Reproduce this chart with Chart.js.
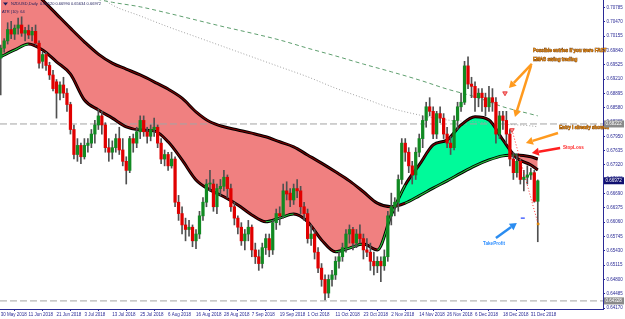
<!DOCTYPE html>
<html>
<head>
<meta charset="utf-8">
<script src="https://cdn.jsdelivr.net/npm/chart.js@4.4.1/dist/chart.umd.min.js"></script>
<style>
  html, body { margin: 0; padding: 0; background: #fff; }
  #wrap { width: 625px; height: 319px; }
</style>
</head>
<body>
<div id="wrap"><canvas id="chart" width="625" height="319"></canvas></div>
<script>
// NZDUSD daily, 30 May 2018 -> 3 Jan 2019 (one entry per bar)
const DATE_LABELS = ['30 May 2018', '11 Jun 2018', '21 Jun 2018', '3 Jul 2018', '13 Jul 2018', '25 Jul 2018',
  '6 Aug 2018', '16 Aug 2018', '28 Aug 2018', '7 Sep 2018', '19 Sep 2018', '1 Oct 2018', '11 Oct 2018',
  '23 Oct 2018', '2 Nov 2018', '14 Nov 2018', '26 Nov 2018', '6 Dec 2018', '18 Dec 2018', '31 Dec 2018'];

const OPEN = [0.6967,0.6989,0.7005,0.7030,0.7020,0.7033,0.7040,0.7022,0.7028,0.7018,0.7026,0.7000,0.6960,0.6975,0.6951,0.6930,
  0.6915,0.6890,0.6908,0.6890,0.6865,0.6810,0.6755,0.6775,0.6750,0.6775,0.6780,0.6800,0.6820,0.6840,0.6820,0.6770,
  0.6760,0.6770,0.6790,0.6765,0.6740,0.6720,0.6790,0.6780,0.6805,0.6830,0.6805,0.6795,0.6810,0.6815,0.6780,0.6745,
  0.6755,0.6730,0.6745,0.6650,0.6625,0.6600,0.6590,0.6595,0.6565,0.6580,0.6620,0.6650,0.6690,0.6690,0.6640,0.6680,
  0.6685,0.6705,0.6680,0.6640,0.6615,0.6595,0.6565,0.6580,0.6595,0.6545,0.6530,0.6515,0.6550,0.6570,0.6545,0.6605,
  0.6625,0.6620,0.6675,0.6670,0.6655,0.6680,0.6675,0.6640,0.6625,0.6570,0.6580,0.6540,0.6505,0.6480,0.6450,0.6480,
  0.6490,0.6520,0.6530,0.6550,0.6580,0.6590,0.6560,0.6580,0.6570,0.6545,0.6540,0.6520,0.6510,0.6520,0.6510,0.6530,
  0.6620,0.6640,0.6650,0.6700,0.6780,0.6760,0.6730,0.6710,0.6760,0.6790,0.6830,0.6860,0.6850,0.6800,0.6845,0.6835,
  0.6800,0.6780,0.6770,0.6830,0.6860,0.6870,0.6950,0.6910,0.6905,0.6880,0.6890,0.6880,0.6860,0.6880,0.6870,0.6800,
  0.6840,0.6830,0.6800,0.6745,0.6715,0.6740,0.6700,0.6705,0.6710,0.6715,0.6652];
const HIGH = [0.6996,0.7010,0.7045,0.7048,0.7040,0.7055,0.7058,0.7035,0.7040,0.7035,0.7040,0.7005,0.6980,0.6980,0.6958,0.6940,
  0.6920,0.6915,0.6925,0.6900,0.6870,0.6820,0.6790,0.6780,0.6790,0.6790,0.6810,0.6830,0.6855,0.6850,0.6825,0.6790,
  0.6785,0.6800,0.6815,0.6790,0.6750,0.6795,0.6800,0.6815,0.6840,0.6840,0.6815,0.6820,0.6835,0.6820,0.6790,0.6765,
  0.6760,0.6760,0.6750,0.6665,0.6640,0.6615,0.6610,0.6600,0.6590,0.6630,0.6660,0.6700,0.6720,0.6700,0.6690,0.6700,
  0.6720,0.6710,0.6690,0.6650,0.6620,0.6605,0.6590,0.6610,0.6600,0.6560,0.6545,0.6560,0.6580,0.6580,0.6610,0.6635,
  0.6640,0.6690,0.6695,0.6680,0.6690,0.6700,0.6685,0.6650,0.6635,0.6600,0.6590,0.6550,0.6515,0.6490,0.6490,0.6500,
  0.6530,0.6540,0.6560,0.6590,0.6600,0.6595,0.6590,0.6600,0.6580,0.6570,0.6560,0.6540,0.6530,0.6530,0.6545,0.6630,
  0.6670,0.6660,0.6710,0.6790,0.6790,0.6770,0.6740,0.6770,0.6800,0.6840,0.6870,0.6880,0.6860,0.6850,0.6860,0.6845,
  0.6815,0.6795,0.6840,0.6870,0.6890,0.6960,0.6970,0.6925,0.6915,0.6900,0.6900,0.6890,0.6905,0.6900,0.6880,0.6850,
  0.6850,0.6850,0.6810,0.6760,0.6755,0.6745,0.6720,0.6730,0.6725,0.6720,0.6699];
const LOW = [0.6886,0.6980,0.6998,0.7010,0.7008,0.7020,0.7015,0.7005,0.7010,0.7005,0.6995,0.6945,0.6945,0.6940,0.6920,0.6895,
  0.6835,0.6875,0.6880,0.6850,0.6800,0.6745,0.6740,0.6735,0.6745,0.6760,0.6770,0.6780,0.6810,0.6800,0.6760,0.6740,
  0.6745,0.6760,0.6755,0.6730,0.6690,0.6715,0.6760,0.6770,0.6790,0.6795,0.6780,0.6785,0.6795,0.6770,0.6735,0.6730,
  0.6720,0.6725,0.6640,0.6610,0.6580,0.6565,0.6575,0.6552,0.6548,0.6570,0.6610,0.6640,0.6675,0.6630,0.6625,0.6665,
  0.6675,0.6660,0.6630,0.6600,0.6580,0.6555,0.6545,0.6565,0.6530,0.6515,0.6500,0.6505,0.6535,0.6530,0.6535,0.6590,
  0.6600,0.6615,0.6655,0.6640,0.6645,0.6660,0.6625,0.6610,0.6560,0.6555,0.6525,0.6495,0.6465,0.6435,0.6440,0.6465,
  0.6480,0.6505,0.6520,0.6540,0.6560,0.6545,0.6550,0.6560,0.6525,0.6530,0.6500,0.6490,0.6495,0.6475,0.6500,0.6520,
  0.6600,0.6620,0.6630,0.6690,0.6740,0.6715,0.6690,0.6700,0.6750,0.6770,0.6815,0.6840,0.6790,0.6790,0.6825,0.6790,
  0.6770,0.6755,0.6765,0.6810,0.6850,0.6865,0.6900,0.6880,0.6850,0.6860,0.6850,0.6840,0.6850,0.6850,0.6780,0.6790,
  0.6810,0.6780,0.6730,0.6700,0.6705,0.6690,0.6675,0.6690,0.6700,0.6650,0.6563];
const CLOSE = [0.6989,0.7005,0.7030,0.7020,0.7033,0.7040,0.7022,0.7028,0.7018,0.7026,0.7000,0.6956,0.6975,0.6951,0.6930,0.6900,
  0.6890,0.6908,0.6890,0.6865,0.6810,0.6755,0.6775,0.6750,0.6775,0.6780,0.6800,0.6820,0.6840,0.6820,0.6770,0.6760,
  0.6770,0.6790,0.6765,0.6740,0.6720,0.6790,0.6780,0.6805,0.6830,0.6805,0.6795,0.6810,0.6815,0.6780,0.6745,0.6755,
  0.6730,0.6745,0.6650,0.6625,0.6600,0.6590,0.6595,0.6565,0.6580,0.6620,0.6650,0.6690,0.6690,0.6640,0.6680,0.6685,
  0.6705,0.6680,0.6640,0.6615,0.6595,0.6565,0.6580,0.6595,0.6545,0.6530,0.6515,0.6550,0.6570,0.6545,0.6605,0.6625,
  0.6620,0.6675,0.6668,0.6655,0.6680,0.6675,0.6640,0.6625,0.6570,0.6580,0.6540,0.6505,0.6480,0.6450,0.6480,0.6490,
  0.6520,0.6530,0.6550,0.6580,0.6590,0.6560,0.6580,0.6570,0.6545,0.6540,0.6520,0.6510,0.6520,0.6510,0.6530,0.6620,
  0.6640,0.6650,0.6700,0.6780,0.6760,0.6730,0.6710,0.6760,0.6790,0.6830,0.6860,0.6850,0.6800,0.6845,0.6835,0.6800,
  0.6780,0.6770,0.6830,0.6860,0.6870,0.6950,0.6910,0.6905,0.6880,0.6890,0.6880,0.6860,0.6880,0.6870,0.6800,0.6840,
  0.6830,0.6800,0.6745,0.6715,0.6740,0.6700,0.6705,0.6710,0.6715,0.6652,0.6697];

// moving averages, read every 4 bars
const MA_BARS = [0,4,8,12,16,20,24,28,32,36,40,44,48,52,56,60,64,68,72,76,80,84,88,92,96,100,104,108,112,116,120,124,128,132,136,140,144,148,152,154];
const FAST_MA = [0.6970,0.6985,0.6998,0.6985,0.6959,0.6932,0.6875,0.6853,0.6835,0.6816,0.6809,0.6807,0.6783,0.6743,0.6699,0.6677,
  0.6662,0.6644,0.6622,0.6607,0.6615,0.6624,0.6607,0.6567,0.6541,0.6549,0.6558,0.6545,0.6622,0.6688,0.6732,0.6776,0.6787,0.6820,
  0.6838,0.6831,0.6787,0.6747,0.6732,0.6721];
const SLOW_MA = [0.7190,0.7161,0.7128,0.7095,0.7064,0.7033,0.7003,0.6976,0.6956,0.6943,0.6930,0.6915,0.6899,0.6879,0.6849,0.6827,
  0.6816,0.6809,0.6802,0.6794,0.6783,0.6772,0.6754,0.6736,0.6717,0.6697,0.6673,0.6648,0.6640,0.6648,0.6664,0.6681,0.6697,0.6714,
  0.6730,0.6743,0.6752,0.6754,0.6750,0.6745];

// long averages, read every 8 bars
const LONG_BARS = [16,24,32,40,48,56,64,72,80,88,96,104,112,120,128,136,144,152,154];
const MA_GREEN = [0.7120,0.7103,0.7090,0.7080,0.7066,0.7051,0.7036,0.7022,0.7007,0.6989,0.6972,0.6954,0.6937,0.6919,0.6899,0.6882,0.6860,0.6844,0.6840];
const MA_GREY = [0.7150,0.7128,0.7084,0.7060,0.7036,0.7014,0.6992,0.6970,0.6948,0.6926,0.6901,0.6879,0.6857,0.6842,0.6831,0.6827,0.6822,0.6818,0.6816];

const Y_TICKS = [0.70785,0.70470,0.70155,0.69840,0.69525,0.69210,0.68895,0.68580,0.68265,0.67950,0.67635,
  0.67320,0.67005,0.66690,0.66375,0.66060,0.65745,0.65430,0.65115,0.64800,0.64485,0.64170];
const LEVELS = [0.68222, 0.64328];
const LAST_PRICE = 0.66972;

// trade marks (bar, price)
const TRADE_LINE = [[146.6, 0.6809], [154.1, 0.6602]];
const SELL_MARKS = [[144.6, 0.6890], [146.6, 0.6809]];
const TP_MARK = [[149.7, 0.6615]];
const CLOSE_MARK = [[154.1, 0.6602]];

const BLUE = '#2a2a96';
const GREEN_FILL = '#00fa9a';
const RED_FILL = '#f08080';

function lowerRising(a, b, k) {
  return a[k] < b[k] && a[k + 1] > a[k];
}

function pts(xs, ys) {
  return xs.map((x, k) => ({ x: x, y: ys[k] }));
}

const notes = [
  { text: 'Possible entries if you were FAST', x: 152.6, y: 0.69828, color: '#f59a20', outline: true },
  { text: 'EMAS swing trading', x: 152.6, y: 0.69630, color: '#f59a20', outline: true },
  { text: 'Entry I already showed', x: 160.1, y: 0.68133, color: '#f59a20', outline: true },
  { text: 'StopLoss', x: 161.2, y: 0.67693, color: '#ff2a2a' },
  { text: 'TakeProfit', x: 138.3, y: 0.65581, color: '#2f8fff' }
];
const arrows = [
  { from: [152.3, 0.69542], to: [145.74, 0.69013], color: '#ff9a1e' },
  { from: [152.05, 0.69498], to: [147.46, 0.68375], color: '#ff9a1e' },
  { from: [159.8, 0.68023], to: [150.6, 0.67803], color: '#ff9a1e' },
  { from: [160.4, 0.67693], to: [152.3, 0.67583], color: '#ff2020' },
  { from: [142.0, 0.65713], to: [148.0, 0.66043], color: '#2a8cf0' }
];

function drawArrow(ctx, x1, y1, x2, y2, color) {
  const ang = Math.atan2(y2 - y1, x2 - x1);
  const head = 7;
  const bx = x2 - Math.cos(ang) * head, by = y2 - Math.sin(ang) * head;
  ctx.strokeStyle = color;
  ctx.fillStyle = color;
  ctx.lineWidth = 2.5;
  ctx.beginPath();
  ctx.moveTo(x1, y1);
  ctx.lineTo(bx, by);
  ctx.stroke();
  ctx.beginPath();
  ctx.moveTo(x2, y2);
  ctx.lineTo(bx + Math.cos(ang + Math.PI / 2) * 4, by + Math.sin(ang + Math.PI / 2) * 4);
  ctx.lineTo(bx + Math.cos(ang - Math.PI / 2) * 4, by + Math.sin(ang - Math.PI / 2) * 4);
  ctx.closePath();
  ctx.fill();
}

function priceBox(ctx, chart, price, bg) {
  const y = chart.scales.y.getPixelForValue(price);
  const left = chart.chartArea.right + 1;
  ctx.fillStyle = bg;
  ctx.fillRect(left, y - 3.5, 20, 7);
  ctx.fillStyle = '#fff';
  ctx.font = '4.5px "Liberation Sans", Arial, sans-serif';
  ctx.textBaseline = 'middle';
  ctx.textAlign = 'left';
  ctx.fillText(price.toFixed(5), left + 1.5, y);
}

const overlay = {
  id: 'overlay',
  afterDraw(chart) {
    const { ctx, scales: { x, y } } = chart;
    ctx.save();
    arrows.forEach(a => drawArrow(ctx,
      x.getPixelForValue(a.from[0]), y.getPixelForValue(a.from[1]),
      x.getPixelForValue(a.to[0]), y.getPixelForValue(a.to[1]), a.color));

    ctx.textAlign = 'left';
    ctx.textBaseline = 'middle';
    ctx.font = 'bold 4.6px "Liberation Sans", Arial, sans-serif';
    notes.forEach(n => {
      const px = x.getPixelForValue(n.x), py = y.getPixelForValue(n.y);
      if (n.outline) {
        ctx.strokeStyle = '#5a2a00';
        ctx.lineWidth = 0.6;
        ctx.strokeText(n.text, px, py);
      }
      ctx.fillStyle = n.color;
      ctx.fillText(n.text, px, py);
    });

    // header
    ctx.fillStyle = '#1c1c5a';
    ctx.beginPath();
    ctx.moveTo(3, 2.5); ctx.lineTo(8, 2.5); ctx.lineTo(5.5, 5.5); ctx.closePath();
    ctx.fill();
    ctx.font = '4px "Liberation Sans", Arial, sans-serif';
    ctx.fillText('NZDUSD,Daily  0.66520 0.66990 0.65634 0.66972', 11, 4.2);
    ctx.fillText('ATR (10): 64', 2, 11.5);

    LEVELS.forEach(l => priceBox(ctx, chart, l, '#8a8a8a'));
    priceBox(ctx, chart, LAST_PRICE, '#101070');
    ctx.restore();
  }
};

const candleColors = CLOSE.map((c, i) => c >= OPEN[i] ? '#118a22' : '#e00000');

new Chart(document.getElementById('chart'), {
  type: 'bar',
  data: {
    datasets: [
      {
        type: 'line', label: 'trade', data: TRADE_LINE.map(p => ({ x: p[0], y: p[1] })),
        borderColor: '#ff3030', borderWidth: 1, borderDash: [1, 2], pointRadius: 0, order: -2
      },
      {
        type: 'scatter', label: 'sell', data: SELL_MARKS.map(p => ({ x: p[0], y: p[1] })),
        pointStyle: 'triangle', rotation: 180, radius: 2.6, backgroundColor: '#ff9090', borderColor: '#e02020', borderWidth: 0.8, order: -3
      },
      {
        type: 'scatter', label: 'tp', data: TP_MARK.map(p => ({ x: p[0], y: p[1] })),
        pointStyle: 'line', radius: 2, borderColor: '#2040ff', borderWidth: 1.2, order: -3
      },
      {
        type: 'scatter', label: 'exit', data: CLOSE_MARK.map(p => ({ x: p[0], y: p[1] })),
        pointStyle: 'rect', radius: 1.4, backgroundColor: '#ffa000', borderColor: '#c07000', borderWidth: 0.5, order: -3
      },
      {
        label: 'body', data: CLOSE.map((c, i) => ({ x: i, y: [OPEN[i], c] })),
        backgroundColor: candleColors, barThickness: 2.6, minBarLength: 1, grouped: false, order: 0
      },
      {
        label: 'wick', data: HIGH.map((h, i) => ({ x: i, y: [LOW[i], h] })),
        backgroundColor: '#505050', barThickness: 1, grouped: false, order: 1
      },
      {
        type: 'line', label: 'fast-inner', data: pts(MA_BARS, FAST_MA),
        borderWidth: 1.1, pointRadius: 0, cubicInterpolationMode: 'monotone', order: 2,
        segment: { borderColor: c => lowerRising(FAST_MA, SLOW_MA, c.p0DataIndex) ? '#27c43a' : '#7a0000' }
      },
      {
        type: 'line', label: 'slow-inner', data: pts(MA_BARS, SLOW_MA),
        borderWidth: 1.1, pointRadius: 0, cubicInterpolationMode: 'monotone', order: 2,
        segment: { borderColor: c => lowerRising(SLOW_MA, FAST_MA, c.p0DataIndex) ? '#27c43a' : '#7a0000' }
      },
      {
        type: 'line', label: 'slow', data: pts(MA_BARS, SLOW_MA),
        borderColor: '#000', borderWidth: 3, pointRadius: 0, cubicInterpolationMode: 'monotone', order: 3
      },
      {
        type: 'line', label: 'fast', data: pts(MA_BARS, FAST_MA),
        borderColor: '#000', borderWidth: 3, pointRadius: 0, cubicInterpolationMode: 'monotone', order: 3,
        fill: { target: 8, above: GREEN_FILL, below: RED_FILL }
      },
      {
        type: 'line', label: 'ma-green', data: pts(LONG_BARS, MA_GREEN),
        borderColor: '#5f9f6f', borderWidth: 1, borderDash: [4, 3], pointRadius: 0, cubicInterpolationMode: 'monotone', order: 4
      },
      {
        type: 'line', label: 'ma-grey', data: pts(LONG_BARS, MA_GREY),
        borderColor: '#a0a0a0', borderWidth: 1, borderDash: [1, 2], pointRadius: 0, cubicInterpolationMode: 'monotone', order: 4
      },
      ...LEVELS.map(l => ({
        type: 'line', label: 'level', data: [{ x: -0.2, y: l }, { x: 172.7, y: l }],
        borderColor: '#a4a4a4', borderWidth: 1, borderDash: [7, 3], pointRadius: 0, order: 5
      }))
    ]
  },
  options: {
    responsive: false,
    animation: false,
    layout: { padding: 0, autoPadding: false },
    plugins: {
      legend: { display: false },
      tooltip: { enabled: false },
      filler: { drawTime: 'beforeDatasetsDraw' }
    },
    scales: {
      x: {
        type: 'linear', min: -0.2, max: 172.7, offset: false,
        grid: { display: true, drawOnChartArea: false, drawTicks: true, tickLength: 2, color: BLUE },
        border: { display: true, color: BLUE, width: 1 },
        afterBuildTicks: s => { s.ticks = DATE_LABELS.map((d, k) => ({ value: k * 8 })); },
        afterFit: s => { s.height = 10; s.paddingLeft = 0; s.paddingRight = 0; },
        ticks: {
          autoSkip: false, maxRotation: 0, align: 'start', padding: 1,
          color: BLUE, font: { size: 4.5, family: '"Liberation Sans", Arial, sans-serif' },
          callback: v => DATE_LABELS[Math.round(v / 8)]
        }
      },
      y: {
        position: 'right', min: 0.6415, max: 0.7095,
        grid: { display: true, drawOnChartArea: false, drawTicks: true, tickLength: 2, color: BLUE },
        border: { display: true, color: BLUE, width: 1 },
        afterBuildTicks: s => { s.ticks = Y_TICKS.map(v => ({ value: v })); },
        afterFit: s => { s.width = 22; s.paddingTop = 0; s.paddingBottom = 0; },
        ticks: {
          autoSkip: false, padding: 1.5,
          color: BLUE, font: { size: 4.5, family: '"Liberation Sans", Arial, sans-serif' },
          callback: v => v.toFixed(5)
        }
      }
    }
  },
  plugins: [overlay]
});
</script>
</body>
</html>
